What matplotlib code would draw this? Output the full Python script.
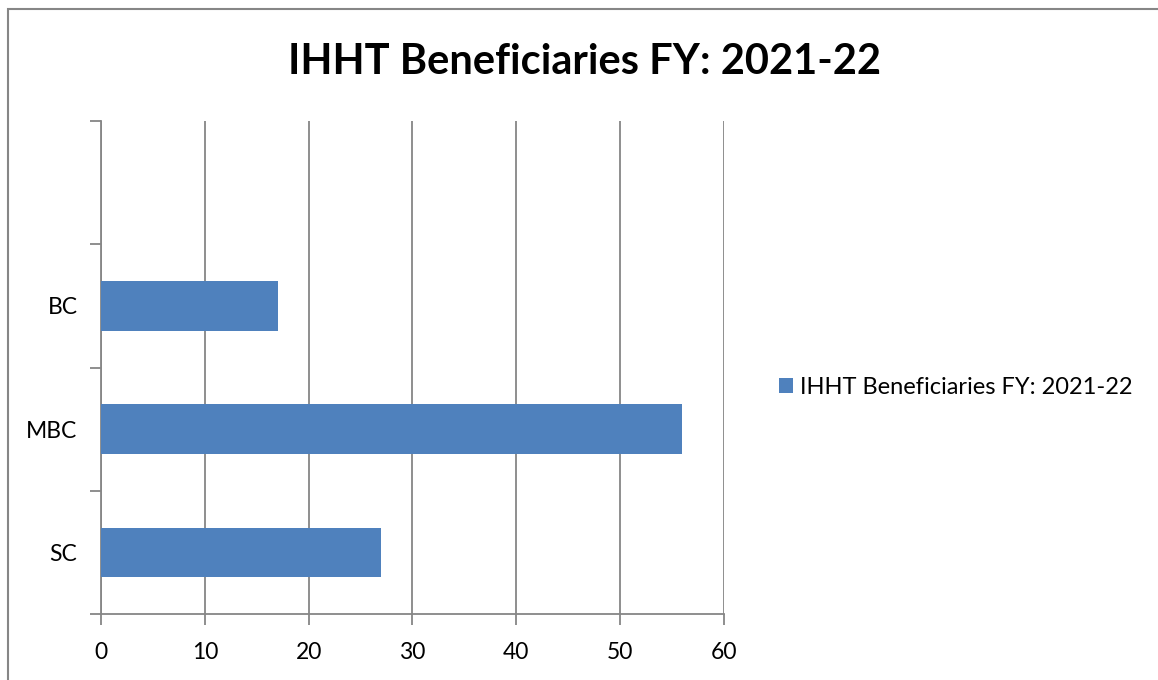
import matplotlib
matplotlib.use("Agg")
import matplotlib.pyplot as plt
from matplotlib.patches import Rectangle, Patch
import numpy as np

categories = ["SC", "MBC", "BC"]
values = [27, 56, 17]
series_name = "IHHT Beneficiaries FY: 2021-22"
title = "IHHT Beneficiaries FY: 2021-22"
xticks = [0, 10, 20, 30, 40, 50, 60]
n_slots = 4  # one empty category slot at the top

plt.rcParams['font.family'] = ['Lato', 'DejaVu Sans']

W, H = 1158, 680
fig = plt.figure(figsize=(W / 100, H / 100), dpi=100)
fig.patch.set_facecolor("white")

grey = "#868686"
bar_color = "#4F81BD"

# outer chart border (continues beyond the right and bottom edges)
fig.patches.append(Rectangle((8 / W, -1), 2, 2 - 9 / H, transform=fig.transFigure,
                             fill=False, edgecolor=grey, linewidth=1.5, zorder=0))

ax = fig.add_axes([101 / W, 1 - 614 / H, (724 - 101) / W, (614 - 121) / H])
y = np.arange(len(categories))
ax.barh(y, values, height=0.4, color=bar_color, zorder=3, label=series_name)
ax.set_xlim(0, 60)
ax.set_ylim(-0.5, n_slots - 0.5)
ax.set_xticks(xticks)
ax.set_xticklabels([str(t) for t in xticks])
ax.set_yticks(y)
ax.set_yticklabels(categories)
ax.set_yticks(np.arange(-0.5, n_slots, 1.0), minor=True)

ax.xaxis.grid(True, color=grey, linewidth=1.3, zorder=0)
ax.set_axisbelow(True)
for s in ["top", "right"]:
    ax.spines[s].set_visible(False)
for s in ["left", "bottom"]:
    ax.spines[s].set_color(grey)
    ax.spines[s].set_linewidth(1.3)

ax.tick_params(axis="x", direction="out", length=8, width=1.3, color=grey,
               labelsize=16.5, pad=12, labelcolor="black")
ax.tick_params(axis="y", which="major", length=0, labelsize=16.5, pad=17, labelcolor="black")
ax.tick_params(axis="y", which="minor", direction="out", length=8, width=1.3, color=grey)

fig.text(585 / W, 1 - 62 / H, title, ha="center", va="center",
         fontsize=30, fontweight="bold")

handle = Patch(facecolor=bar_color, edgecolor="none")
fig.legend([handle], [series_name], loc="center left",
           bbox_to_anchor=(758 / W, 1 - 387 / H), frameon=False,
           fontsize=17, handlelength=0.6, handleheight=0.6, handletextpad=0.3)

fig.savefig("out.png", dpi=100)
